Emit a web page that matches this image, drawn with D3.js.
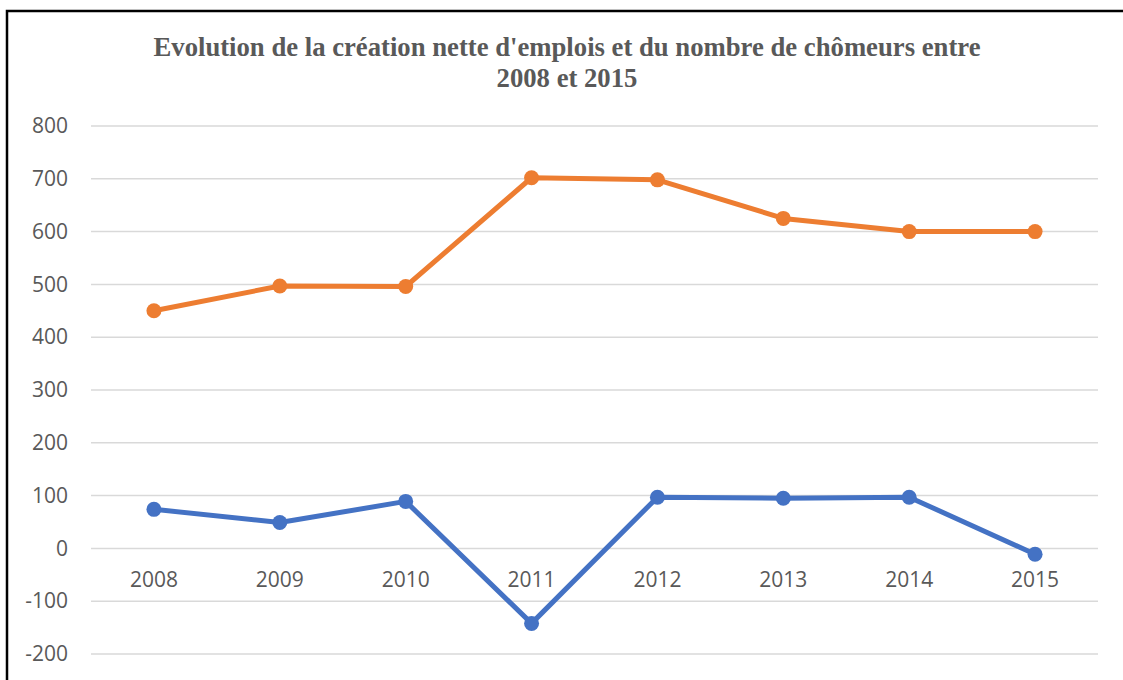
<!DOCTYPE html>
<html>
<head>
<meta charset="utf-8">
<script src="https://cdn.jsdelivr.net/npm/d3@7"></script>
<style>
  body { margin: 0; background: #fff; }
</style>
</head>
<body>
<div id="chart"></div>
<script>
// years on the x axis
var years = ['2008', '2009', '2010', '2011', '2012', '2013', '2014', '2015'];
// nombre de chômeurs (orange)
var chomeurs = [450, 497, 496, 702, 698, 625, 600, 600];
// création nette d'emplois (blue)
var emplois = [74, 49, 89, -142, 97, 95, 97, -11];
var yTicks = [-200, -100, 0, 100, 200, 300, 400, 500, 600, 700, 800];

var W = 1123, H = 680;
var margin = { top: 126, right: 25, bottom: 26, left: 91 };
var width = W - margin.left - margin.right,
    height = H - margin.top - margin.bottom;

var svg = d3.select('#chart')
    .append('svg')
    .attr('width', W)
    .attr('height', H);

// frame of the original picture
svg.append('path')
    .attr('d', 'M7,680 V11 H1123')
    .attr('fill', 'none')
    .attr('stroke', '#000')
    .attr('stroke-width', 2.5);

svg.append('text')
    .attr('x', 567)
    .attr('y', 56)
    .attr('text-anchor', 'middle')
    .style('font-family', '"Liberation Serif", "Times New Roman", serif')
    .style('font-weight', 'bold')
    .style('font-size', '26.7px')
    .style('fill', '#595959')
    .selectAll('tspan')
    .data(["Evolution de la création nette d'emplois et du nombre de chômeurs entre", '2008 et 2015'])
    .enter()
    .append('tspan')
    .attr('x', 567)
    .attr('dy', function (d, i) { return i === 0 ? 0 : 31; })
    .text(function (d) { return d; });

var graph = svg.append('g')
    .attr('transform', 'translate(' + margin.left + ',' + margin.top + ')');

var xS = d3.scaleBand()
    .domain(years)
    .range([0, width]);

var yS = d3.scaleLinear()
    .domain([-200, 800])
    .range([528, 0]);

// gridlines
graph.append('g')
    .selectAll('line')
    .data(yTicks)
    .enter()
    .append('line')
    .attr('x1', 0)
    .attr('x2', width)
    .attr('y1', function (d) { return yS(d); })
    .attr('y2', function (d) { return yS(d); })
    .attr('stroke', '#d9d9d9')
    .attr('stroke-width', 1.5);

var yAxis = graph.append('g')
    .call(d3.axisLeft(yS).tickValues(yTicks).tickSize(0).tickPadding(23)
        .tickFormat(function (d) { return String(d); }));
yAxis.select('.domain').remove();

// category labels sit just under the zero line
var xAxis = graph.append('g')
    .attr('transform', 'translate(0,' + yS(0) + ')')
    .call(d3.axisBottom(xS).tickSize(0).tickPadding(24));
xAxis.select('.domain').remove();

graph.selectAll('.tick text')
    .style('font-family', '"Open Sans", sans-serif')
    .style('font-size', '21px')
    .style('fill', '#595959');

var line = d3.line()
    .x(function (d, i) { return xS(years[i]) + xS.bandwidth() / 2; })
    .y(function (d) { return yS(d); });

[[chomeurs, '#ED7D31'], [emplois, '#4472C4']].forEach(function (s) {
    graph.append('path')
        .datum(s[0])
        .attr('d', line)
        .attr('fill', 'none')
        .attr('stroke', s[1])
        .attr('stroke-width', 5)
        .attr('stroke-linejoin', 'round');
    graph.append('g')
        .selectAll('circle')
        .data(s[0])
        .enter()
        .append('circle')
        .attr('cx', function (d, i) { return xS(years[i]) + xS.bandwidth() / 2; })
        .attr('cy', function (d) { return yS(d); })
        .attr('r', 7.5)
        .attr('fill', s[1]);
});
</script>
</body>
</html>
